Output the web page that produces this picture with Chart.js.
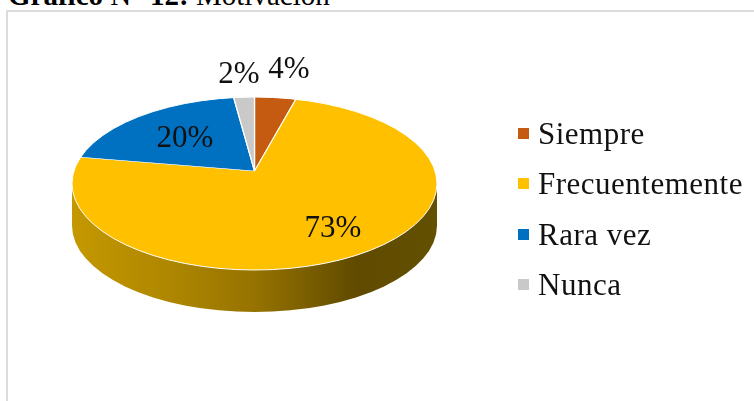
<!DOCTYPE html>
<html lang="es">

<head>
    <meta charset="UTF-8">
    <title>Motivación</title>
    <script src="https://cdn.jsdelivr.net/npm/chart.js"></script>
    <style>
        body { margin: 0; background: #fff; }
        .janela { position: relative; width: 754px; height: 401px; overflow: hidden; font-family: "Liberation Serif", serif; color: #111; }
        .titulo { position: absolute; left: 8px; top: -21px; font-size: 29px; line-height: 33px; color: #000; white-space: nowrap; }
        .marco { position: absolute; left: 6px; top: 10px; width: 760px; height: 400px; border: 2px solid #dcdcdc; }
        canvas { position: absolute; left: 0; top: 0; }
        .leyenda { position: absolute; left: 518px; top: 108px; }
        .leyenda div { position: relative; height: 50.4px; line-height: 52px; padding-left: 20px; font-size: 31px; letter-spacing: 0.5px; white-space: nowrap; }
        .leyenda span { position: absolute; left: 0; top: 20px; width: 11px; height: 11px; }
    </style>
</head>

<body>
    <div class="janela">
        <div class="titulo"><b>Gráfico</b> N° <b>12:</b> Motivación</div>
        <div class="marco"></div>
        <canvas id="pizza" width="754" height="401"></canvas>
        <div class="leyenda" id="leyenda"></div>
    </div>

    <script>
        const categorias = ['Siempre', 'Frecuentemente', 'Rara vez', 'Nunca'];
        const valores = [4, 73, 20, 2];
        const cores = ['#C55A11', '#FFC000', '#0070C0', '#C9C9C9'];

        // onde cada rótulo fica na imagem
        const posRotulos = [[289, 70], [333, 229], [185, 139], [239, 75]];

        // tampa da pizza em perspectiva
        const tampa = { x: 254.5, y: 183.5, rx: 182.5, ry: 86.5, altura: 42 };
        const vertice = { x: 254.5, y: 171 };
        const raioPlano = 260;
        const achatar = 0.45;

        const pizza3d = {
            id: 'pizza3d',
            beforeDatasetsDraw(chart) {
                const ctx = chart.ctx;
                const arco = chart.getDatasetMeta(0).data[0];

                // parede lateral
                const grad = ctx.createLinearGradient(tampa.x - tampa.rx, 0, tampa.x + tampa.rx, 0);
                grad.addColorStop(0, '#C49800');
                grad.addColorStop(0.25, '#B08800');
                grad.addColorStop(0.5, '#967300');
                grad.addColorStop(0.78, '#604A00');
                grad.addColorStop(1, '#635000');
                ctx.save();
                ctx.beginPath();
                ctx.ellipse(tampa.x, tampa.y + tampa.altura, tampa.rx, tampa.ry, 0, 0, Math.PI);
                ctx.lineTo(tampa.x - tampa.rx, tampa.y);
                ctx.lineTo(tampa.x + tampa.rx, tampa.y);
                ctx.closePath();
                ctx.fillStyle = grad;
                ctx.fill();
                ctx.restore();

                // as fatias são recortadas pela tampa
                const esc = raioPlano / arco.outerRadius;
                ctx.save();
                ctx.beginPath();
                ctx.ellipse(tampa.x, tampa.y, tampa.rx, tampa.ry, 0, 0, Math.PI * 2);
                ctx.clip();
                ctx.translate(vertice.x, vertice.y);
                ctx.scale(esc, esc * achatar);
                ctx.translate(-arco.x, -arco.y);
            },
            afterDatasetsDraw(chart) {
                const ctx = chart.ctx;
                ctx.restore();

                ctx.save();
                ctx.beginPath();
                ctx.ellipse(tampa.x, tampa.y, tampa.rx, tampa.ry, 0, 0, Math.PI * 2);
                ctx.strokeStyle = '#ffffff';
                ctx.lineWidth = 1;
                ctx.stroke();

                ctx.font = '31px "Liberation Serif"';
                ctx.fillStyle = '#111111';
                ctx.textAlign = 'center';
                ctx.textBaseline = 'middle';
                for (let i = 0; i < valores.length; i++) {
                    ctx.fillText(valores[i] + '%', posRotulos[i][0], posRotulos[i][1]);
                }
                ctx.restore();
            }
        };

        new Chart(document.getElementById('pizza').getContext('2d'), {
            type: 'pie',
            data: {
                labels: categorias,
                datasets: [{
                    data: valores,
                    backgroundColor: cores,
                    borderColor: '#ffffff',
                    borderWidth: 1,
                    clip: false
                }]
            },
            options: {
                responsive: false,
                animation: false,
                plugins: { legend: { display: false }, tooltip: { enabled: false } }
            },
            plugins: [pizza3d]
        });

        const leyenda = document.getElementById('leyenda');
        for (let i = 0; i < categorias.length; i++) {
            const linha = document.createElement('div');
            linha.innerHTML = '<span style="background:' + cores[i] + '"></span>' + categorias[i];
            leyenda.appendChild(linha);
        }
    </script>
</body>

</html>
